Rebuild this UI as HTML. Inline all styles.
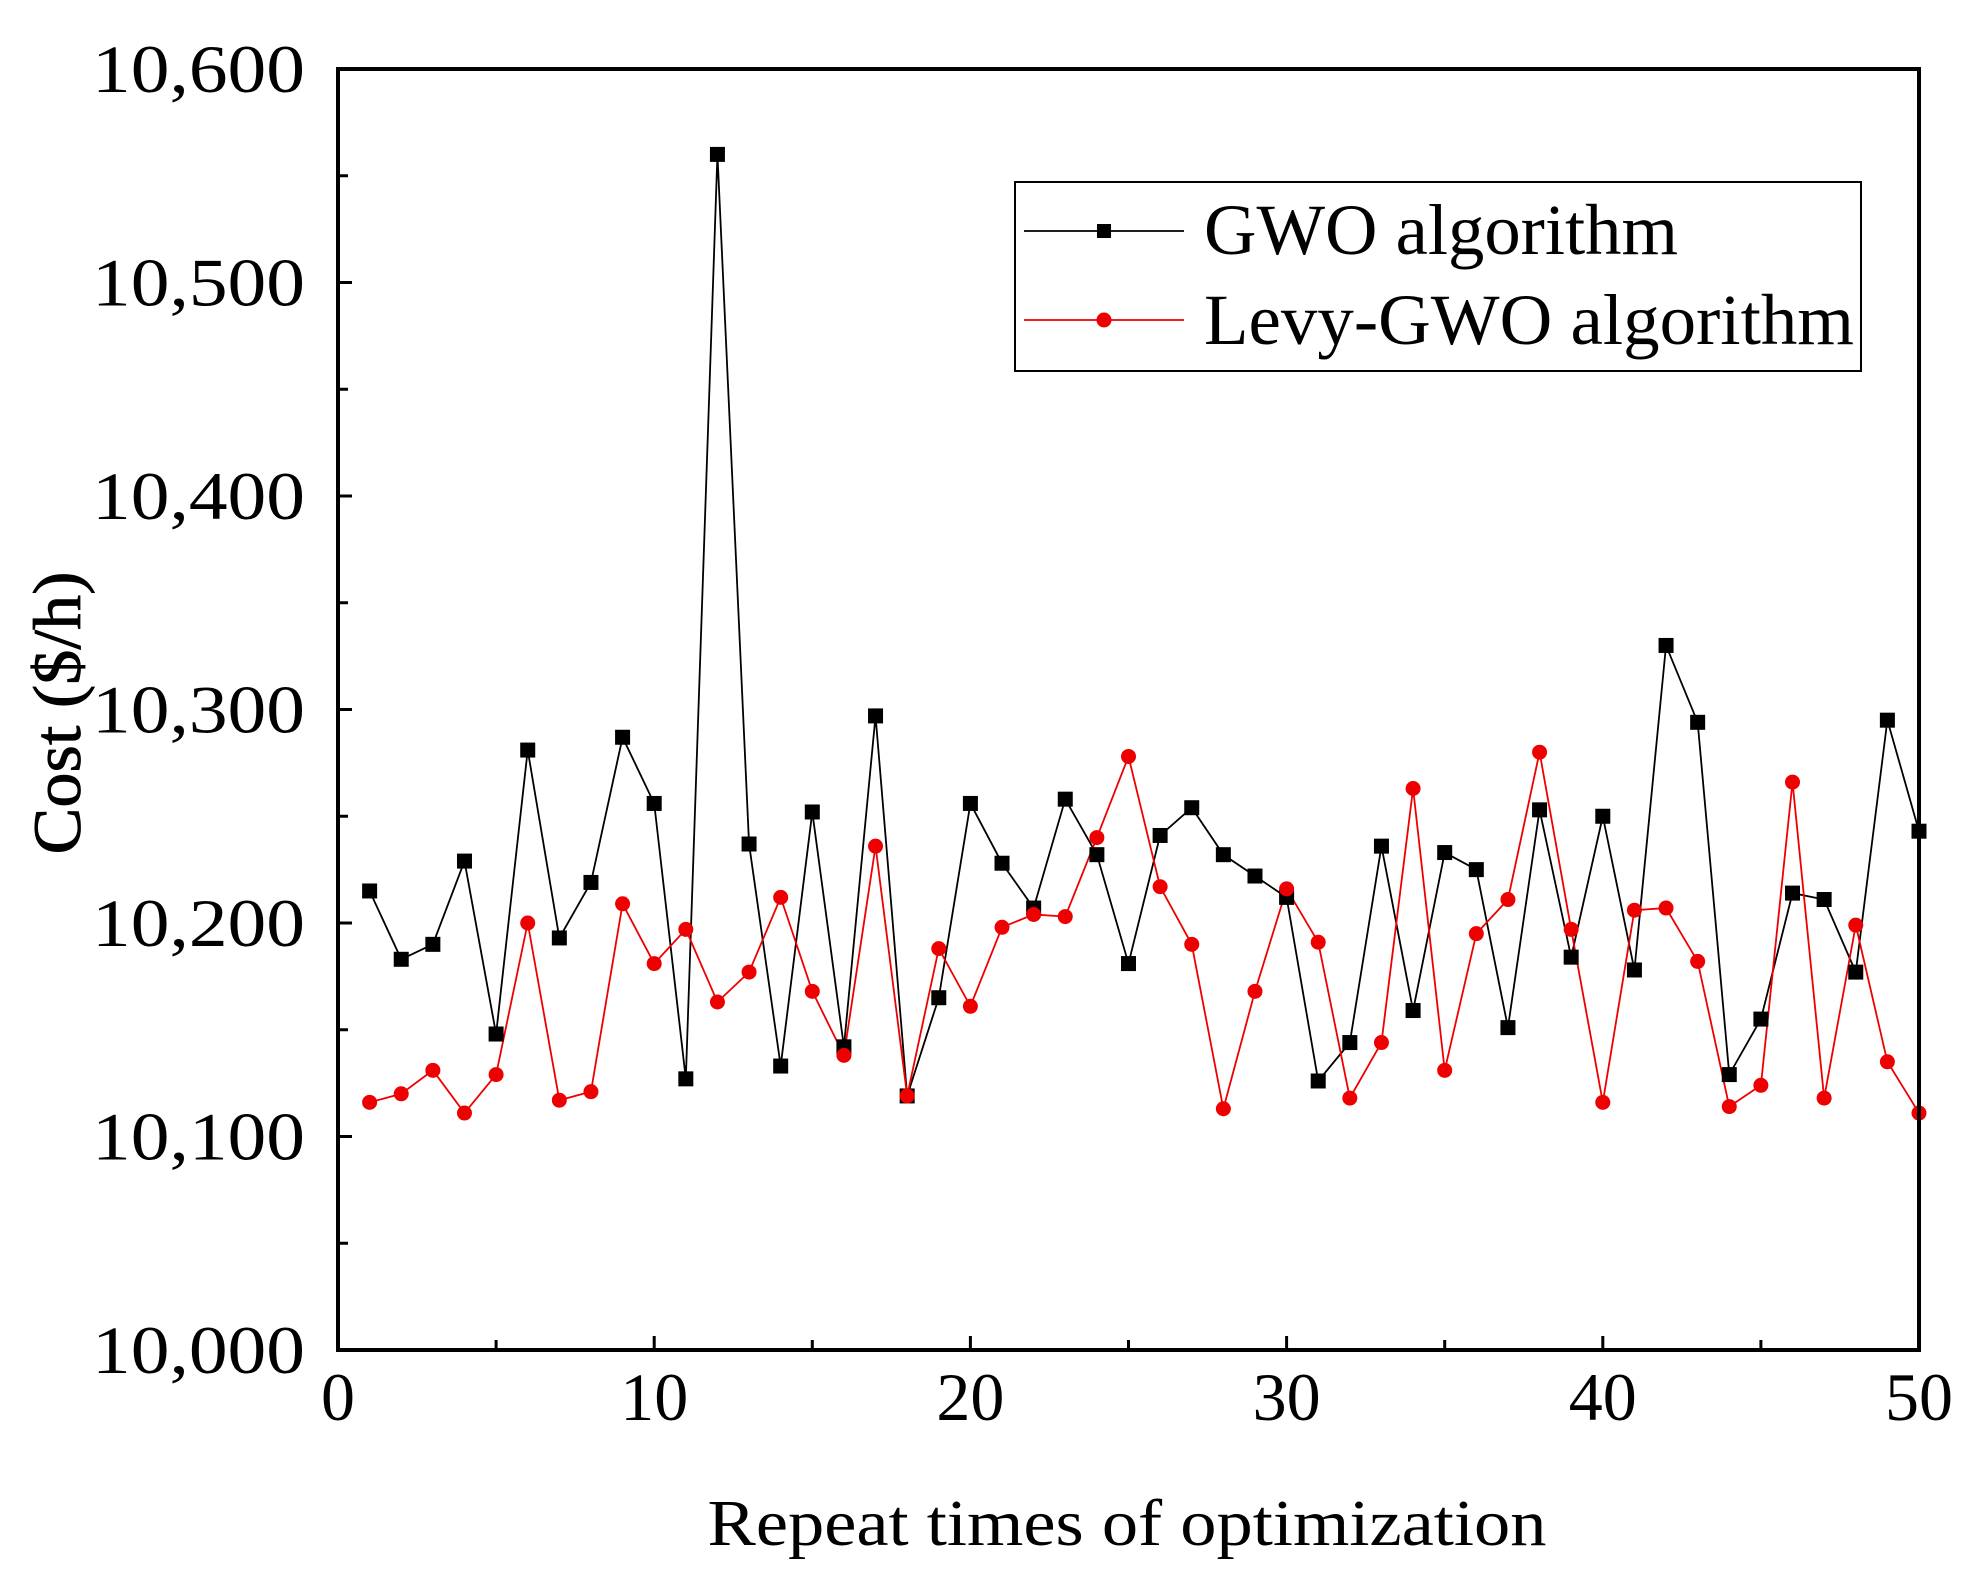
<!DOCTYPE html>
<html><head><meta charset="utf-8"><style>html,body{margin:0;padding:0;background:#fff}svg{display:block}</style></head>
<body>
<svg id="s" width="1971" height="1593" xmlns="http://www.w3.org/2000/svg" font-family="Liberation Serif, serif">
<rect width="1971" height="1593" fill="#fff"/>
<g id="ticks" stroke="#000" stroke-width="3"></g>
<polyline id="g" fill="none" stroke="#000" stroke-width="1.8"/>
<polyline id="l" fill="none" stroke="#e00" stroke-width="1.8"/>
<g id="gm" fill="#000"></g>
<g id="lm" fill="#e00"></g>
<rect x="338" y="69" width="1581" height="1281" fill="none" stroke="#000" stroke-width="4"/>
<g id="lab" font-size="68" fill="#000"></g>
<text x="1127" y="1545" font-size="66" text-anchor="middle" textLength="839" lengthAdjust="spacingAndGlyphs">Repeat times of optimization</text>
<text transform="translate(80,713) rotate(-90)" font-size="68" text-anchor="middle" textLength="283" lengthAdjust="spacingAndGlyphs" stroke="#000" stroke-width="0.8">Cost ($/h)</text>
<rect x="1015" y="182" width="846" height="189" fill="#fff" stroke="#000" stroke-width="2"/>
<line x1="1024" y1="231" x2="1184" y2="231" stroke="#000" stroke-width="1.8"/>
<rect x="1097" y="224" width="14" height="14" fill="#000"/>
<line x1="1024" y1="320" x2="1184" y2="320" stroke="#e00" stroke-width="1.8"/>
<circle cx="1104" cy="320" r="7.5" fill="#e00"/>
<text x="1204" y="254" font-size="72" textLength="474" lengthAdjust="spacingAndGlyphs">GWO algorithm</text>
<text x="1204" y="344" font-size="72" textLength="650" lengthAdjust="spacingAndGlyphs">Levy-GWO algorithm</text>
</svg>
<script>
var G=[10215,10183,10190,10229,10148,10281,10193,10219,10287,10256,10127,10560,10237,10133,10252,10142,10297,10119,10165,10256,10228,10207,10258,10232,10181,10241,10254,10232,10222,10212,10126,10144,10236,10159,10233,10225,10151,10253,10184,10250,10178,10330,10294,10129,10155,10214,10211,10177,10295,10243];
var L=[10116,10120,10131,10111,10129,10200,10117,10121,10209,10181,10197,10163,10177,10212,10168,10138,10236,10119,10188,10161,10198,10204,10203,10240,10278,10217,10190,10113,10168,10216,10191,10118,10144,10263,10131,10195,10211,10280,10197,10116,10206,10207,10182,10114,10124,10266,10118,10199,10135,10111];
function X(v){return 338+v*1581/50}function Y(c){return 1350-(c-10000)*1281/600}
var NS="http://www.w3.org/2000/svg";function el(t,a,p){var e=document.createElementNS(NS,t);for(var k in a)e.setAttribute(k,a[k]);document.getElementById(p).appendChild(e);return e}
var pg=[],pl=[];
for(var i=0;i<50;i++){var x=X(i+1);pg.push(x+","+Y(G[i]));pl.push(x+","+Y(L[i]));
el("rect",{x:x-7.5,y:Y(G[i])-7.5,width:15,height:15},"gm");el("circle",{cx:x,cy:Y(L[i]),r:7.5},"lm");}
document.getElementById("g").setAttribute("points",pg.join(" "));document.getElementById("l").setAttribute("points",pl.join(" "));
for(var c=10000;c<=10600;c+=50){var y=Y(c);el("line",{x1:338,y1:y,x2:c%100?348:352,y2:y},"ticks");}
for(var v=0;v<=50;v+=5){var x=X(v);el("line",{x1:x,y1:1350,x2:x,y2:v%10?1340:1336},"ticks");}
for(var c=10000;c<=10600;c+=100){var t=el("text",{x:305,y:Y(c)+23,"text-anchor":"end",textLength:213,lengthAdjust:"spacingAndGlyphs"},"lab");t.textContent=(c+"").replace(/(\d\d)(\d{3})/,"$1,$2");}
for(var v=0;v<=50;v+=10){var t=el("text",{x:X(v),y:1420,"text-anchor":"middle"},"lab");t.textContent=v;}
</script>
</body></html>
